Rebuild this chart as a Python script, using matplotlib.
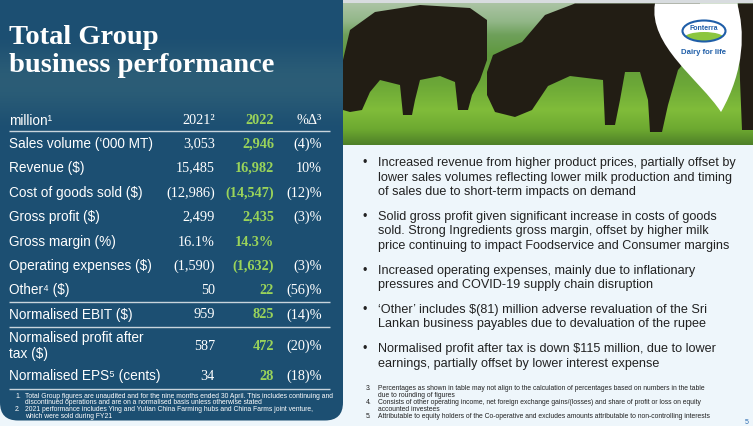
import numpy as np
import matplotlib
matplotlib.use("Agg")
import matplotlib.pyplot as plt
from matplotlib.patches import FancyBboxPatch, Polygon, PathPatch, Ellipse, Rectangle
from matplotlib.path import Path

# ---------------- data ----------------
row_labels = ["Sales volume (\u2018000 MT)", "Revenue ($)", "Cost of goods sold ($)", "Gross profit ($)",
              "Gross margin (%)", "Operating expenses ($)", "Other\u2074 ($)", "Normalised EBIT ($)",
              "Normalised profit after\ntax ($)", "Normalised EPS\u2075 (cents)"]
row_is_pct = [False, False, False, False, True, False, False, False, False, False]
v2021 = [3053, 15485, -12986, 2499, 16.1, -1590, 50, 959, 587, 34]
v2022 = [2946, 16982, -14547, 2435, 14.3, -1632, 22, 825, 472, 28]
pct_change = [-4, 10, -12, -3, None, -3, -56, -14, -20, -18]
header = ["million\u00b9", "2021\u00b2", "2022", "%\u0394\u00b3"]
title_lines = ["Total Group", "business performance"]

bullets = [
    ["Increased revenue from higher product prices, partially offset by",
     "lower sales volumes reflecting lower milk production and timing",
     "of sales due to short-term impacts on demand"],
    ["Solid gross profit given significant increase in costs of goods",
     "sold. Strong Ingredients gross margin, offset by higher milk",
     "price continuing to impact Foodservice and Consumer margins"],
    ["Increased operating expenses, mainly due to inflationary",
     "pressures and COVID-19 supply chain disruption"],
    ["\u2018Other\u2019 includes $(81) million adverse revaluation of the Sri",
     "Lankan business payables due to devaluation of the rupee"],
    ["Normalised profit after tax is down $115 million, due to lower",
     "earnings, partially offset by lower interest expense"],
]
left_notes = [
    ("1.", ["Total Group figures are unaudited and for the nine months ended 30 April. This includes continuing and",
            "discontinued operations and are on a normalised basis unless otherwise stated"]),
    ("2.", ["2021 performance includes Ying and Yutian China Farming hubs and China Farms joint venture,",
            "which were sold during FY21"]),
]
right_notes = [
    ("3.", ["Percentages as shown in table may not align to the calculation of percentages based on numbers in the table",
            "due to rounding of figures"]),
    ("4.", ["Consists of other operating income, net foreign exchange gains/(losses) and share of profit or loss on equity",
            "accounted investees"]),
    ("5.", ["Attributable to equity holders of the Co-operative and excludes amounts attributable to non-controlling interests"]),
]

# ---------------- style ----------------
BLUE = "#1c4f72"
GREEN = "#9ad45a"
BG = "#eef6fb"
WHITE = "white"
TXT = "#222222"
SANS = ["Liberation Sans", "DejaVu Sans"]
SERIF = ["Liberation Serif", "DejaVu Serif"]

W, H = 753, 426
fig = plt.figure(figsize=(W / 100, H / 100), dpi=100)
fig.patch.set_facecolor(BG)
ax = fig.add_axes([0, 0, 1, 1])
ax.set_xlim(0, W)
ax.set_ylim(H, 0)
ax.axis("off")

# top strip
ax.add_patch(Rectangle((0, 0), W, 3.5, color="#d8dcdf", zorder=1))

# ---------------- photo ----------------
px0, px1, py0, py1 = 343, W, 3.5, 145
ys = np.linspace(py0, py1, 150)
keys_y = [3, 22, 35, 55, 85, 110, 130, 145]
keys_c = np.array([[172, 196, 165], [145, 182, 135], [110, 160, 90], [95, 152, 62],
                   [108, 168, 55], [128, 188, 58], [108, 168, 48], [78, 128, 40]]) / 255.0
grad = np.stack([np.interp(ys, keys_y, keys_c[:, k]) for k in range(3)], axis=1)
img = np.repeat(grad[:, None, :], 40, axis=1)
ax.imshow(img, extent=(px0, px1, py1, py0), aspect="auto", zorder=2, interpolation="bilinear")
COW = "#221d14"
cow1 = [(350, 30), (375, 12), (420, 5), (470, 8), (487, 20), (487, 60), (480, 80), (472, 95),
        (468, 110), (458, 110), (455, 82), (440, 76), (420, 80), (415, 100), (412, 115), (403, 115),
        (400, 85), (380, 80), (370, 92), (362, 110), (350, 112), (343, 110), (343, 60)]
cow2 = [(487, 72), (493, 55), (508, 48), (522, 42), (545, 15), (575, 3.5), (700, 3.5), (695, 50),
        (678, 70), (668, 105), (662, 132), (650, 132), (648, 100), (640, 72), (625, 72), (620, 100),
        (615, 125), (605, 125), (603, 80), (570, 76), (548, 86), (532, 110), (515, 117), (495, 112), (487, 95)]
cow3 = [(738, 3.5), (753, 3.5), (753, 130), (742, 130), (740, 80)]
for poly in (cow1, cow2, cow3):
    ax.add_patch(Polygon(poly, closed=True, color=COW, zorder=3, lw=0))

# logo drop
verts = [(655, 3.5), (648, 45), (700, 80), (721, 112), (745, 70), (745, 30), (737, 3.5), (655, 3.5)]
codes = [Path.MOVETO, Path.CURVE4, Path.CURVE4, Path.CURVE4, Path.CURVE4, Path.CURVE4, Path.CURVE4, Path.CLOSEPOLY]
ax.add_patch(PathPatch(Path(verts, codes), facecolor="white", edgecolor="none", zorder=4))
LOGO = "#1f5ea8"
outer = Ellipse((704, 31), 43, 21, facecolor="white", edgecolor="none", zorder=5)
ax.add_patch(outer)
green = Ellipse((704, 38), 40, 12, facecolor="#8cc63f", edgecolor="none", zorder=5.2)
ax.add_patch(green)
green.set_clip_path(outer)
ax.add_patch(Ellipse((704, 31), 43, 21, facecolor="none", edgecolor=LOGO, lw=1.5, zorder=5.5))
ax.text(704, 28.5, "Fonterra", fontsize=5.0, fontweight="bold", color=LOGO, ha="center", va="center",
        family=SANS, zorder=6)
ax.text(704, 52, "Dairy for life", fontsize=5.6, fontweight="bold", color=LOGO, ha="center", va="center",
        family=SANS, zorder=6)

# ---------------- left panel ----------------
ax.add_patch(FancyBboxPatch((0, -40), 343, 421 + 40 - 0.5, boxstyle="round,pad=0,rounding_size=18",
                            facecolor=BLUE, edgecolor="none", zorder=2))
band = np.linspace(0, 1, 100)
alpha_img = np.zeros((100, 2, 4))
alpha_img[..., 0] = 0.45
alpha_img[..., 1] = 0.62
alpha_img[..., 2] = 0.55
alpha_img[..., 3] = (np.sin(np.pi * band) ** 2 * 0.18)[:, None]
ax.imshow(alpha_img, extent=(0, 343, 135, 30), aspect="auto", zorder=2.5, interpolation="bilinear")

ax.text(9, 44, title_lines[0], fontsize=20.5, fontweight="bold", color=WHITE, family=SERIF,
        va="baseline", ha="left", zorder=6)
ax.text(9, 72, title_lines[1], fontsize=20.5, fontweight="bold", color=WHITE, family=SERIF,
        va="baseline", ha="left", zorder=6)

x_label, x_2021, x_2022, x_pct = 9, 215, 274, 322
LAB_FS, NUM_FS = 9.8, 10.3

hy = 121
ax.text(x_label, hy, header[0], fontsize=LAB_FS, color=WHITE, family=SANS, va="center", ha="left", zorder=6)
ax.text(x_2021, hy, header[1], fontsize=NUM_FS, color=WHITE, family=SERIF, va="center", ha="right", zorder=6)
ax.text(x_2022, hy, header[2], fontsize=NUM_FS, color=GREEN, fontweight="bold", family=SERIF,
        va="center", ha="right", zorder=6)
ax.text(x_pct, hy, header[3], fontsize=NUM_FS, color=WHITE, family=SERIF, va="center", ha="right", zorder=6)


def fmt_val(v, is_pct):
    s = f"{abs(v):.1f}%" if is_pct else f"{abs(v):,}"
    return f"({s})" if v < 0 else s


def fmt_change(p):
    if p is None:
        return ""
    return f"({abs(p)})%" if p < 0 else f"{p}%"


row_y = [144, 168, 193, 217, 242, 266, 290, 315, 346, 376]
for i, lab in enumerate(row_labels):
    y = row_y[i]
    if "\n" in lab:
        l1, l2 = lab.split("\n")
        ax.text(x_label, y - 8, l1, fontsize=LAB_FS, color=WHITE, family=SANS, va="center", ha="left", zorder=6)
        ax.text(x_label, y + 8, l2, fontsize=LAB_FS, color=WHITE, family=SANS, va="center", ha="left", zorder=6)
    else:
        ax.text(x_label, y, lab, fontsize=LAB_FS, color=WHITE, family=SANS, va="center", ha="left", zorder=6)
    ax.text(x_2021, y, fmt_val(v2021[i], row_is_pct[i]), fontsize=NUM_FS, color=WHITE, family=SERIF,
            va="center", ha="right", zorder=6)
    ax.text(x_2022, y, fmt_val(v2022[i], row_is_pct[i]), fontsize=NUM_FS, color=GREEN, fontweight="bold",
            family=SERIF, va="center", ha="right", zorder=6)
    ax.text(x_pct, y, fmt_change(pct_change[i]), fontsize=NUM_FS, color=WHITE, family=SERIF,
            va="center", ha="right", zorder=6)

for ly in (131, 302, 327, 389):
    ax.plot([9, 330], [ly, ly], color="#c9d4dc", lw=1.0, zorder=6, solid_capstyle="butt")

# left footnotes
ny = 396
for num, lines in left_notes:
    ax.text(15, ny, num, fontsize=4.85, color=WHITE, family=SANS, va="center", ha="left", zorder=6)
    for ln in lines:
        ax.text(25, ny, ln, fontsize=4.85, color=WHITE, family=SANS, va="center", ha="left", zorder=6)
        ny += 6.8

# ---------------- bullets ----------------
BUL_FS = 9.1
line_h = 14.6
by = 163
for blines in bullets:
    ax.text(363, by, "\u2022", fontsize=BUL_FS, color=TXT, family=SANS, va="center", ha="left", zorder=6)
    for ln in blines:
        ax.text(378, by, ln, fontsize=BUL_FS, color=TXT, family=SANS, va="center", ha="left", zorder=6)
        by += line_h
    by += 10

# right footnotes
ny = 388
for num, lines in right_notes:
    ax.text(366, ny, num, fontsize=4.9, color=TXT, family=SANS, va="center", ha="left", zorder=6)
    for ln in lines:
        ax.text(378, ny, ln, fontsize=4.9, color=TXT, family=SANS, va="center", ha="left", zorder=6)
        ny += 7.2

ax.text(747, 422, "5", fontsize=5, color="#2a6ab0", family=SANS, va="center", ha="center", zorder=6)

fig.savefig("out.png", dpi=100, facecolor=fig.get_facecolor())
